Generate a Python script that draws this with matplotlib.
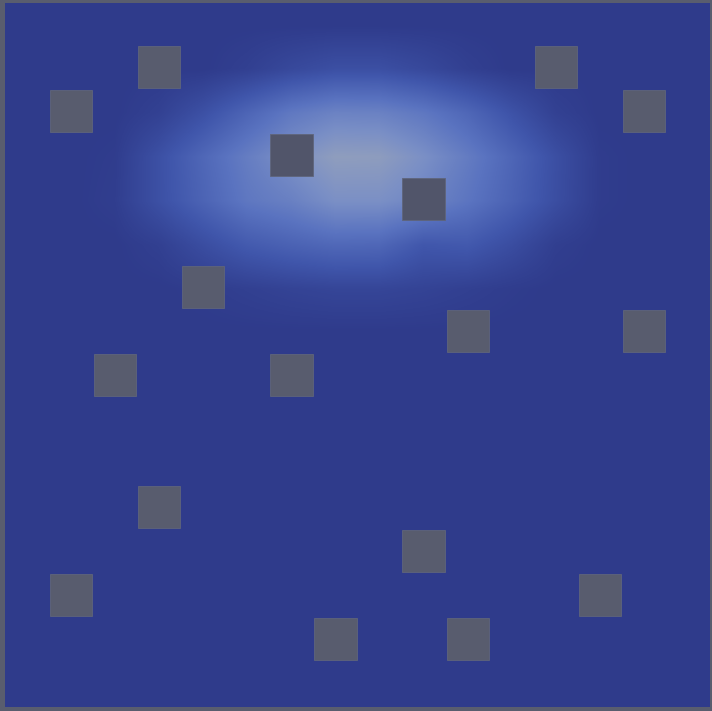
import numpy as np
import matplotlib

matplotlib.use("Agg")
import matplotlib.pyplot as plt
from matplotlib.colors import LinearSegmentedColormap
from matplotlib.patches import Rectangle

# obstacle cells on the 16x16 grid (column, row counted from the top)
obstacle_cols = [3, 1, 12, 14, 6, 9, 4, 10, 14, 2, 6, 3, 9, 1, 13, 7, 10]
obstacle_rows = [1, 2, 1, 2, 3, 4, 6, 7, 7, 8, 8, 11, 12, 13, 13, 14, 14]
# obstacles sitting inside the bright patch are drawn a shade darker
obstacle_hot = [0, 0, 0, 0, 1, 1, 0, 0, 0, 0, 0, 0, 0, 0, 0, 0, 0]

# field intensity per grid cell (0 = background, 1 = brightest)
field = [
    [0, 0, 0, 0, 0, 0, 0, 0, 0, 0, 0, 0, 0, 0, 0, 0],
    [0, 0, 0, 0, 0, 0.05, 0.13, 0.19, 0.19, 0.13, 0.05, 0, 0, 0, 0, 0],
    [0, 0, 0, 0.06, 0.20, 0.38, 0.55, 0.64, 0.63, 0.54, 0.40, 0.22, 0.06, 0, 0, 0],
    [0, 0, 0.02, 0.20, 0.40, 0.59, 0.77, 0.92, 0.91, 0.76, 0.58, 0.39, 0.19, 0.02, 0, 0],
    [0, 0, 0.03, 0.20, 0.37, 0.54, 0.62, 0.76, 0.76, 0.66, 0.52, 0.36, 0.18, 0.02, 0, 0],
    [0, 0, 0, 0.05, 0.17, 0.29, 0.36, 0.41, 0.40, 0.26, 0.28, 0.17, 0.04, 0, 0, 0],
    [0, 0, 0, 0, 0.02, 0.05, 0.08, 0.10, 0.10, 0.08, 0.05, 0.02, 0, 0, 0, 0],
    [0] * 16,
    [0] * 16,
    [0] * 16,
    [0] * 16,
    [0] * 16,
    [0] * 16,
    [0] * 16,
    [0] * 16,
    [0] * 16,
]

FRAME = "#595d6e"
cmap = LinearSegmentedColormap.from_list(
    "dimmed_cool",
    [(0.0, "#2f3b8b"), (0.25, "#4056ab"), (0.5, "#5a73c0"),
     (0.75, "#7a8fc6"), (1.0, "#99a4ba")],
)

fig = plt.figure(figsize=(7.12, 7.11), dpi=100, facecolor=FRAME)
ax = fig.add_axes([5 / 712, 4 / 711, 705 / 712, 704 / 711])
ax.imshow(np.array(field), cmap=cmap, vmin=0, vmax=1, interpolation="bilinear",
          extent=[0, 16, 16, 0], aspect="auto")

for c, r, hot in zip(obstacle_cols, obstacle_rows, obstacle_hot):
    ax.add_patch(Rectangle((c + 0.02, r - 0.03), 0.96, 0.96,
                           facecolor="#51556a" if hot else "#585c6e",
                           edgecolor="#5f657b", linewidth=0.6))

ax.set_xlim(0, 16)
ax.set_ylim(16, 0)
ax.axis("off")
fig.savefig("out.png", dpi=100, facecolor=FRAME)
